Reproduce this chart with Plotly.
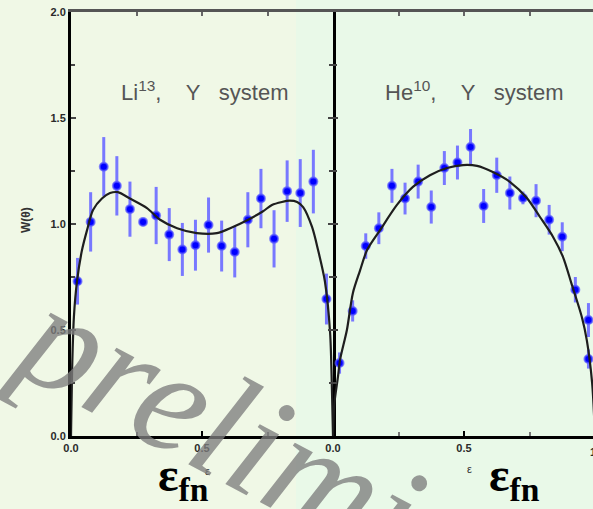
import plotly.graph_objects as go

# Li-13, Y system: measured W(theta) vs eps_fn
li_eps = [0.025, 0.075, 0.125, 0.175, 0.225, 0.275, 0.325, 0.375, 0.425, 0.475,
          0.525, 0.575, 0.625, 0.675, 0.725, 0.775, 0.825, 0.875, 0.925, 0.975]
li_w = [0.73, 1.01, 1.27, 1.18, 1.07, 1.01, 1.04, 0.95, 0.88, 0.90,
        0.995, 0.896, 0.868, 1.02, 1.12, 0.93, 1.155, 1.146, 1.20, 0.646]
li_err = [0.11, 0.14, 0.14, 0.14, 0.13, 0.02, 0.135, 0.125, 0.125, 0.12,
          0.13, 0.12, 0.12, 0.13, 0.14, 0.135, 0.145, 0.16, 0.15, 0.12]

# Li-13 fitted curve
li_fit_x = [0.0, 0.004, 0.011, 0.023, 0.042, 0.061, 0.084, 0.118, 0.149, 0.179,
            0.225, 0.29, 0.34, 0.405, 0.48, 0.557, 0.618, 0.676, 0.733, 0.767,
            0.805, 0.835, 0.863, 0.886, 0.92, 0.943, 0.969, 0.989, 0.996, 1.0]
li_fit_y = [0.0, 0.30, 0.56, 0.73, 0.877, 0.97, 1.066, 1.12, 1.146, 1.15,
            1.12, 1.075, 1.02, 0.98, 0.957, 0.957, 0.986, 1.02, 1.06, 1.09,
            1.104, 1.11, 1.104, 1.08, 0.986, 0.877, 0.73, 0.486, 0.217, 0.0]

# He-10, Y system: measured W(theta) vs eps_fn
he_eps = [0.025, 0.075, 0.125, 0.175, 0.225, 0.275, 0.325, 0.375, 0.425, 0.475,
          0.525, 0.575, 0.625, 0.675, 0.725, 0.775, 0.825, 0.875, 0.925, 0.975, 0.975]
he_w = [0.344, 0.59, 0.896, 0.98, 1.18, 1.12, 1.20, 1.08, 1.264, 1.29,
        1.363, 1.085, 1.23, 1.146, 1.123, 1.11, 1.02, 0.94, 0.69, 0.547, 0.363]
he_err = [0.05, 0.05, 0.06, 0.075, 0.08, 0.075, 0.08, 0.078, 0.08, 0.08,
          0.085, 0.08, 0.083, 0.078, 0.03, 0.078, 0.07, 0.068, 0.06, 0.08, 0.045]

# He-10 fitted curve
he_fit_x = [0.0, 0.005, 0.019, 0.027, 0.053, 0.076, 0.103, 0.13, 0.179, 0.244,
            0.305, 0.37, 0.435, 0.496, 0.55, 0.61, 0.676, 0.74, 0.79, 0.84,
            0.878, 0.91, 0.95, 0.969, 0.989, 1.0]
he_fit_y = [0.0, 0.15, 0.28, 0.36, 0.50, 0.675, 0.78, 0.877, 0.97, 1.09,
            1.175, 1.23, 1.264, 1.278, 1.274, 1.245, 1.198, 1.123, 1.033, 0.939,
            0.844, 0.72, 0.56, 0.45, 0.25, 0.0]

y_ticks = [0.0, 0.5, 1.0, 1.5, 2.0]
y_tick_text = ["0.0", "0.5", "1.0", "1.5", "2.0"]
x_ticks = [0.0, 0.5, 1.0]
x_tick_text = ["0.0", "0.5", "1.0"]

W, H = 593, 509
x_left0, x_mid, y_top, y_bot = 71, 333, 12, 436
panel_px = x_mid - x_left0

def px_x(p):
    return p / W

def px_y(p):
    return 1 - p / H

fig = go.Figure()

pt_color = "#0000ff"
err_color = "#7878ff"
fit_color = "#1e1e1e"

for xs, ys, es, xa, ya in [(li_eps, li_w, li_err, "x", "y"), (he_eps, he_w, he_err, "x2", "y2")]:
    fig.add_trace(go.Scatter(
        x=xs, y=ys, mode="markers", xaxis=xa, yaxis=ya,
        error_y=dict(type="data", array=es, color=err_color, thickness=3, width=0),
        marker=dict(size=8, color=pt_color, line=dict(color="rgba(90,90,255,0.7)", width=2)),
        showlegend=False, hoverinfo="skip"))

for xs, ys, xa, ya in [(li_fit_x, li_fit_y, "x", "y"), (he_fit_x, he_fit_y, "x2", "y2")]:
    fig.add_trace(go.Scatter(
        x=xs, y=ys, mode="lines", xaxis=xa, yaxis=ya,
        line=dict(color=fit_color, width=2.2, shape="spline", smoothing=0.8),
        showlegend=False, hoverinfo="skip"))

# empty traces so the top frame axes are drawn
fig.add_trace(go.Scatter(x=[], y=[], xaxis="x3", yaxis="y", showlegend=False))
fig.add_trace(go.Scatter(x=[], y=[], xaxis="x4", yaxis="y2", showlegend=False))

tick_font = dict(family="Liberation Sans, Arial", size=11, color="#2a2a2a", weight="bold")
dom_left = [px_x(x_left0), px_x(x_mid)]
dom_right = [px_x(x_mid), 1.0]
dom_y = [px_y(y_bot), px_y(y_top)]
right_max = (W - x_mid) / panel_px

common_x = dict(showline=True, linecolor="black", linewidth=3, ticks="inside", ticklen=5,
                tickcolor="black", tickwidth=2, showgrid=False, zeroline=False,
                tickfont=tick_font, automargin=False,
                minor=dict(tickvals=[0.25, 0.75], ticks="inside", ticklen=4, tickcolor="#777", tickwidth=2))
common_y = dict(linecolor="black", linewidth=3, ticks="inside", ticklen=5,
                tickcolor="#444", tickwidth=2, showgrid=False, zeroline=False, range=[0, 2],
                tickvals=y_ticks, ticktext=y_tick_text, tickfont=tick_font, domain=dom_y,
                automargin=False,
                minor=dict(tickvals=[0.25, 0.75, 1.25, 1.75], ticks="inside", ticklen=4,
                           tickcolor="#444", tickwidth=2))
top_x = dict(side="top", showline=True, linecolor="#555", linewidth=3, ticks="inside",
             ticklen=4, tickcolor="#666", tickwidth=2, tickvals=[0.25, 0.5, 0.75],
             showticklabels=False, showgrid=False, zeroline=False, automargin=False)

fig.update_layout(
    width=W, height=H, autosize=False,
    margin=dict(l=0, r=0, t=0, b=0, pad=0),
    paper_bgcolor="#f0f8e6", plot_bgcolor="rgba(0,0,0,0)",
    xaxis=dict(domain=dom_left, range=[0, 1], anchor="y",
               tickvals=x_ticks[:2], ticktext=x_tick_text[:2], **common_x),
    xaxis2=dict(domain=dom_right, range=[0, right_max], anchor="y2",
                tickvals=x_ticks, ticktext=x_tick_text, **common_x),
    xaxis3=dict(overlaying="x", anchor="y", range=[0, 1], **top_x),
    xaxis4=dict(overlaying="x2", anchor="y2", range=[0, right_max], **top_x),
    yaxis=dict(anchor="x", showline=True, mirror="ticks", **common_y),
    yaxis2=dict(anchor="x2", showline=False, showticklabels=False, **common_y),
    shapes=[dict(type="rect", xref="paper", yref="paper", x0=px_x(296), x1=1, y0=0, y1=1,
                 fillcolor="#e9f9e8", line=dict(width=0), layer="below")],
)


def note(text, xp, yp, font, angle=0):
    fig.add_annotation(text=text, xref="paper", yref="paper", x=px_x(xp), y=px_y(yp),
                       xanchor="center", yanchor="middle", showarrow=False,
                       textangle=angle, font=font)


nb = "\u00a0"
title_font = dict(family="Liberation Sans, Arial", size=22, color="#555")
note(f"Li<sup>13</sup>,{nb*4}Y{nb*3}system", 205, 91, title_font)
note(f"He<sup>10</sup>,{nb*4}Y{nb*3}system", 474, 91, title_font)

# right-hand end label of the second panel
note("1.0", 597, 452, tick_font)

# y axis title
note("W(θ)", 26, 220, dict(family="Liberation Sans, Arial", size=12, color="#333", weight="bold"), -90)

# small axis titles
for xp, yp in [(207, 471), (469, 469)]:
    note("ε", xp, yp, dict(family="Liberation Sans, Arial", size=11, color="#333"))

# large variable labels
for xp in [183, 514]:
    note("<b>ε</b><sub><b>fn</b></sub>", xp, 478,
         dict(family="Liberation Serif, Times New Roman", size=48, color="black"))

# preliminary watermark
note("<i>preliminary</i>", 340, 487,
     dict(family="Liberation Serif, Times New Roman", size=150, color="rgba(125,125,125,0.78)"), 28)

fig.write_html("out.html")
